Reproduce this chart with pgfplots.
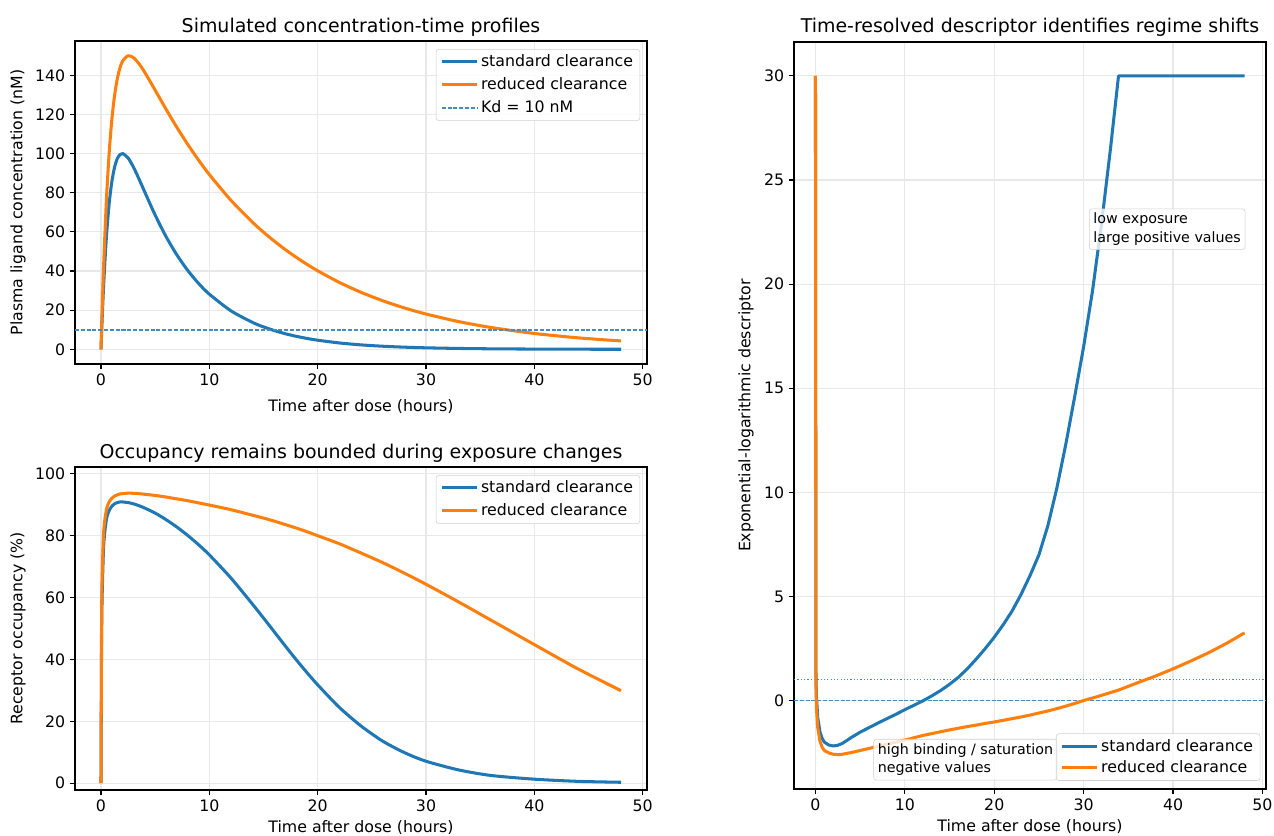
\documentclass[border=0pt]{standalone}
\usepackage{fontspec}
\setmainfont{DejaVu Sans}
\usepackage{pgfplots}
\usepackage{pgfplotstable}
\pgfplotsset{compat=1.18}

\definecolor{tabblue}{HTML}{1F77B4}
\definecolor{taborange}{HTML}{FF7F0E}
\definecolor{refblue}{HTML}{3F8CC6}
\definecolor{gridgray}{HTML}{E8E8E8}
\definecolor{framegray}{HTML}{D0D0D0}

% concentration (nM) and occupancy (%) vs time (h)
\pgfplotstableread{
t     cstd    cred    ostd  ored
0     0       0       0     0
0.05  7.59    9.84    43.1  49.6
0.1   14.71   19.11   59.5  65.6
0.25  33.47   43.84   77.0  81.4
0.5   57.42   76.27   85.2  88.4
0.75  74.21   100.05  88.1  90.9
1     85.61   117.28  89.5  92.1
1.25  92.98   129.55  90.3  92.8
1.5   97.35   138.07  90.7  93.2
1.75  99.50   143.76  90.9  93.5
2     100.0   147.31  90.9  93.6
2.5   97.76   149.98  90.7  93.75
3     93.02   148.98  90.3  93.7
3.5   87.13   145.94  89.7  93.6
4     80.85   141.85  89.0  93.4
5     68.58   132.38  87.3  93.0
6     57.64   122.68  85.2  92.5
7     48.26   113.41  82.8  91.9
8     40.35   104.74  80.1  91.3
9     33.71   96.71   77.1  90.6
10    28.17   89.28   73.8  89.9
12    19.65   76.08   66.3  88.4
14    13.71   64.83   57.8  86.6
15    11.45   59.85   53.4  85.7
16    9.57    55.25   48.9  84.7
17    7.99    51.00   44.4  83.6
18    6.67    47.08   40.0  82.5
19    5.57    43.46   35.8  81.3
20    4.66    40.12   31.8  80.0
22    3.25    34.18   24.5  77.4
24    2.27    29.13   18.5  74.4
26    1.58    24.82   13.6  71.3
28    1.10    21.15   9.9   67.9
30    0.77    18.03   7.1   64.3
33    0.45    14.18   4.3   58.6
36    0.26    11.15   2.5   52.7
40    0.13    8.10    1.3   44.8
44    0.06    5.88    0.6   37.0
48    0.03    4.27    0.3   29.9
}\pktable

% descriptor vs time (clipped at 30)
\pgfplotstableread{
t     dstd    dred
0     30      30
0.05  1.5     1.0
0.1   0.3     -0.3
0.25  -0.8    -1.3
0.5   -1.5    -1.95
0.75  -1.82   -2.25
1     -2.0    -2.4
1.5   -2.14   -2.52
2     -2.18   -2.58
2.5   -2.15   -2.6
3     -2.06   -2.58
4     -1.78   -2.5
5     -1.52   -2.4
6     -1.3    -2.3
7     -1.08   -2.2
8     -0.87   -2.1
9     -0.66   -2.0
10    -0.44   -1.9
11    -0.23   -1.79
12    -0.02   -1.68
13    0.22    -1.59
14    0.48    -1.5
15    0.78    -1.41
16    1.12    -1.33
17    1.53    -1.25
18    2.0     -1.18
19    2.5     -1.1
20    3.04    -1.03
21    3.64    -0.95
22    4.3     -0.87
23    5.1     -0.79
24    6.0     -0.7
25    7.0     -0.6
26    8.4     -0.5
27    10.2    -0.39
28    12.3    -0.27
29    14.6    -0.14
30    17.0    0.0
31    19.7    0.12
32    22.9    0.25
33    26.5    0.38
33.9  30      0.5
36    30      0.85
38    30      1.17
40    30      1.52
42    30      1.9
44    30      2.3
46    30      2.75
48    30      3.25
}\desctable

\tikzset{
  note/.style={draw=framegray, rounded corners=2pt, fill=white, fill opacity=0.8, text opacity=1,
    align=left, inner sep=3pt, font=\fontsize{10.3}{13.5}\selectfont, anchor=west},
  curve/.style={line width=2.2pt, line join=round},
  refline/.style={refblue, line width=1.1pt, dash pattern=on 2.9pt off 1.3pt},
}

\pgfplotsset{
  every axis title shift=0pt,
  panel/.style={
    scale only axis,
    axis line style={black, line width=0.8pt},
    grid=major,
    major grid style={gridgray, line width=0.8pt},
    tick align=outside,
    tick pos=left,
    major tick length=0.05in,
    every tick/.style={black, line width=0.8pt},
    xmin=-2.4, xmax=50.4,
    xtick={0,10,...,50},
    /pgf/number format/assume math mode=true,
    tick label style={font=\fontsize{11.4}{13.7}\selectfont},
    label style={font=\fontsize{11.4}{13.7}\selectfont},
    title style={font=\fontsize{13.7}{16}\selectfont, at={(axis description cs:0.5,1)}, anchor=base, yshift=0.09in},
    xlabel style={at={(axis description cs:0.5,0)}, anchor=base, yshift=-0.475in},
    legend cell align=left,
    legend style={font=\fontsize{11.4}{13.7}\selectfont, draw=framegray, rounded corners=2pt,
      fill=white, fill opacity=0.8, text opacity=1, draw opacity=1, row sep=2.5pt},
    legend image code/.code={\draw[##1] (0in,0in) -- (0.35in,0in);},
  },
}

\begin{document}
\begin{tikzpicture}
\useasboundingbox (0,0) rectangle (12.74in,-8.36in);

% top left: concentration
\begin{axis}[panel,
  at={(0.75in,-3.64in)}, anchor=south west,
  width=5.72in, height=3.23in,
  ymin=-7.5, ymax=157.5,
  ytick={0,20,...,140},
  title={Simulated concentration-time profiles},
  xlabel={Time after dose (hours)},
  ylabel={Plasma ligand concentration (nM)},
  ylabel style={at={(axis description cs:-0.0997,0.5)}, anchor=center},
  legend style={at={(0.988,0.975)}, anchor=north east},
]
\addplot[curve, tabblue, smooth, tension=0.45] table[x=t, y=cstd] {\pktable};
\addlegendentry{standard clearance}
\addplot[curve, taborange, smooth, tension=0.45] table[x=t, y=cred] {\pktable};
\addlegendentry{reduced clearance}
\addplot[refline] coordinates {(-2.4,10) (50.4,10)};
\addlegendentry{Kd = 10 nM}
\end{axis}

% bottom left: occupancy
\begin{axis}[panel,
  at={(0.75in,-7.90in)}, anchor=south west,
  width=5.72in, height=3.23in,
  ymin=-2.2, ymax=102.2,
  ytick={0,20,...,100},
  title={Occupancy remains bounded during exposure changes},
  xlabel={Time after dose (hours)},
  ylabel={Receptor occupancy (\%)},
  ylabel style={at={(axis description cs:-0.0997,0.5)}, anchor=center},
  xlabel style={yshift=0.055in},
  legend style={at={(0.988,0.975)}, anchor=north east},
]
\addplot[curve, tabblue, smooth, tension=0.45] table[x=t, y=ostd] {\pktable};
\addlegendentry{standard clearance}
\addplot[curve, taborange, smooth, tension=0.45] table[x=t, y=ored] {\pktable};
\addlegendentry{reduced clearance}
\end{axis}

% right: descriptor
\begin{axis}[panel,
  at={(7.94in,-7.89in)}, anchor=south west,
  width=4.72in, height=7.47in,
  ymin=-4.25, ymax=31.63,
  ytick={0,5,...,30},
  title={Time-resolved descriptor identifies regime shifts},
  xlabel={Time after dose (hours)},
  ylabel={Exponential-logarithmic descriptor},
  ylabel style={at={(axis description cs:-0.1017,0.5)}, anchor=center},
  xlabel style={yshift=0.055in},
  legend style={at={(0.988,0.011)}, anchor=south east, row sep=1.5pt},
]
\addplot[forget plot, refline] coordinates {(-2.4,0) (50.4,0)};
\addplot[forget plot, refblue, line width=1.1pt, dash pattern=on 0.9pt off 1.5pt] coordinates {(-2.4,1) (50.4,1)};
\addplot[curve, tabblue] table[x=t, y=dstd] {\desctable};
\addlegendentry{standard clearance}
\addplot[curve, taborange] table[x=t, y=dred] {\desctable};
\addlegendentry{reduced clearance}
\node[note] at (axis cs:30.6,22.64) {low exposure\\large positive values};
\node[note] at (axis cs:6.48,-2.84) {high binding / saturation\\negative values};
\end{axis}
\end{tikzpicture}
\end{document}
